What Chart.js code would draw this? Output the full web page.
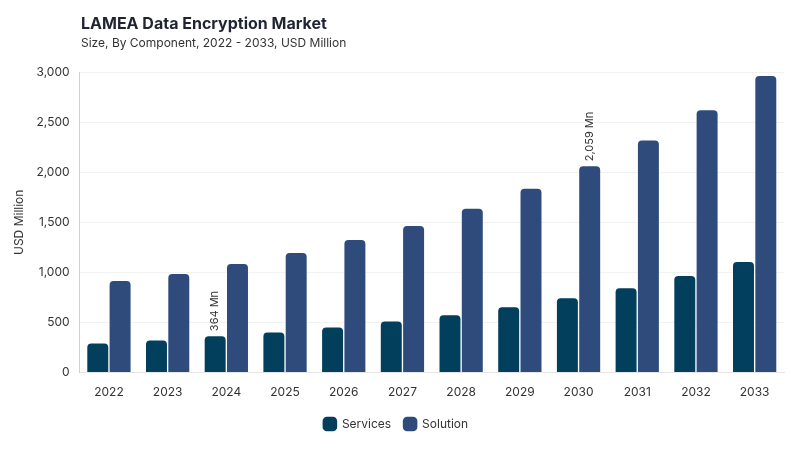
<!DOCTYPE html>
<html>
<head>
<meta charset="utf-8">
<script src="https://cdn.jsdelivr.net/npm/chart.js@4"></script>
<style>
  body { margin: 0; background: #fff; font-family: Inter, "Noto Sans", sans-serif; }
  #wrap { position: relative; width: 800px; height: 450px; }
  #title { position: absolute; left: 81px; top: 13px; font-size: 16px; font-weight: 700; color: #1f2433; }
  #subtitle { position: absolute; left: 81px; top: 35px; font-size: 12px; color: #333; }
</style>
</head>
<body>
<div id="wrap">
  <div id="title">LAMEA Data Encryption Market</div>
  <div id="subtitle">Size, By Component, 2022 - 2033, USD Million</div>
  <canvas id="chart-area" width="800" height="450"></canvas>
</div>
<script>
var years = ['2022', '2023', '2024', '2025', '2026', '2027', '2028', '2029', '2030', '2031', '2032', '2033'];
var services = [291, 321, 364, 401, 451, 511, 572, 652, 742, 843, 963, 1103];
var solution = [913, 983, 1083, 1194, 1324, 1464, 1635, 1836, 2059, 2317, 2618, 2959];
var yTicks = [0, 500, 1000, 1500, 2000, 2500, 3000];

// which bars get a value label: [dataset index, point index]
var labelled = [[0, 2], [1, 8]];

var barLabels = {
    id: 'barLabels',
    afterDatasetsDraw: function (chart) {
        var ctx = chart.ctx;
        ctx.save();
        ctx.fillStyle = '#333';
        ctx.font = '11px Inter, "Noto Sans", sans-serif';
        ctx.textBaseline = 'middle';
        ctx.textAlign = 'left';
        labelled.forEach(function (l) {
            var bar = chart.getDatasetMeta(l[0]).data[l[1]];
            var v = chart.data.datasets[l[0]].data[l[1]];
            ctx.save();
            ctx.translate(bar.x, bar.y - 5);
            ctx.rotate(-Math.PI / 2);
            ctx.fillText(v.toLocaleString('en-US') + ' Mn', 0, 0);
            ctx.restore();
        });
        ctx.restore();
    }
};

var config = {
    type: 'bar',
    data: {
        labels: years,
        datasets: [{
                label: 'Services',
                data: services,
                backgroundColor: '#023f5c',
                borderRadius: 4,
                borderSkipped: 'bottom'
            }, {
                label: 'Solution',
                data: solution,
                backgroundColor: '#2e4b7b',
                borderRadius: 4,
                borderSkipped: 'bottom'
            }]
    },
    options: {
        responsive: false,
        animation: false,
        layout: {
            padding: {top: 72, left: 8, right: 16, bottom: 10}
        },
        datasets: {
            bar: {categoryPercentage: 0.76, barPercentage: 0.94}
        },
        scales: {
            x: {
                grid: {display: false},
                border: {display: true, color: '#e6e6e6'},
                ticks: {color: '#333', font: {size: 12}, padding: 5}
            },
            y: {
                min: 0,
                max: 3000,
                afterBuildTicks: function (axis) {
                    axis.ticks = yTicks.map(function (v) { return {value: v}; });
                },
                grid: {color: '#f2f2f2', drawTicks: false},
                border: {display: true, color: '#d0d0d0'},
                ticks: {
                    color: '#333',
                    font: {size: 12},
                    padding: 10,
                    callback: function (v) { return v.toLocaleString('en-US'); }
                },
                title: {display: true, text: 'USD Million', color: '#333', font: {size: 12}, padding: {top: 4, bottom: 0}}
            }
        },
        plugins: {
            legend: {
                position: 'bottom',
                labels: {
                    usePointStyle: true,
                    pointStyle: 'rectRounded',
                    boxWidth: 14,
                    boxHeight: 14,
                    padding: 13,
                    color: '#333',
                    font: {size: 12}
                }
            },
            tooltip: {enabled: false}
        }
    },
    plugins: [barLabels]
};

Chart.defaults.font.family = 'Inter, "Noto Sans", sans-serif';
var ctx = document.getElementById('chart-area').getContext('2d');
var myBar = new Chart(ctx, config);
</script>
</body>
</html>
